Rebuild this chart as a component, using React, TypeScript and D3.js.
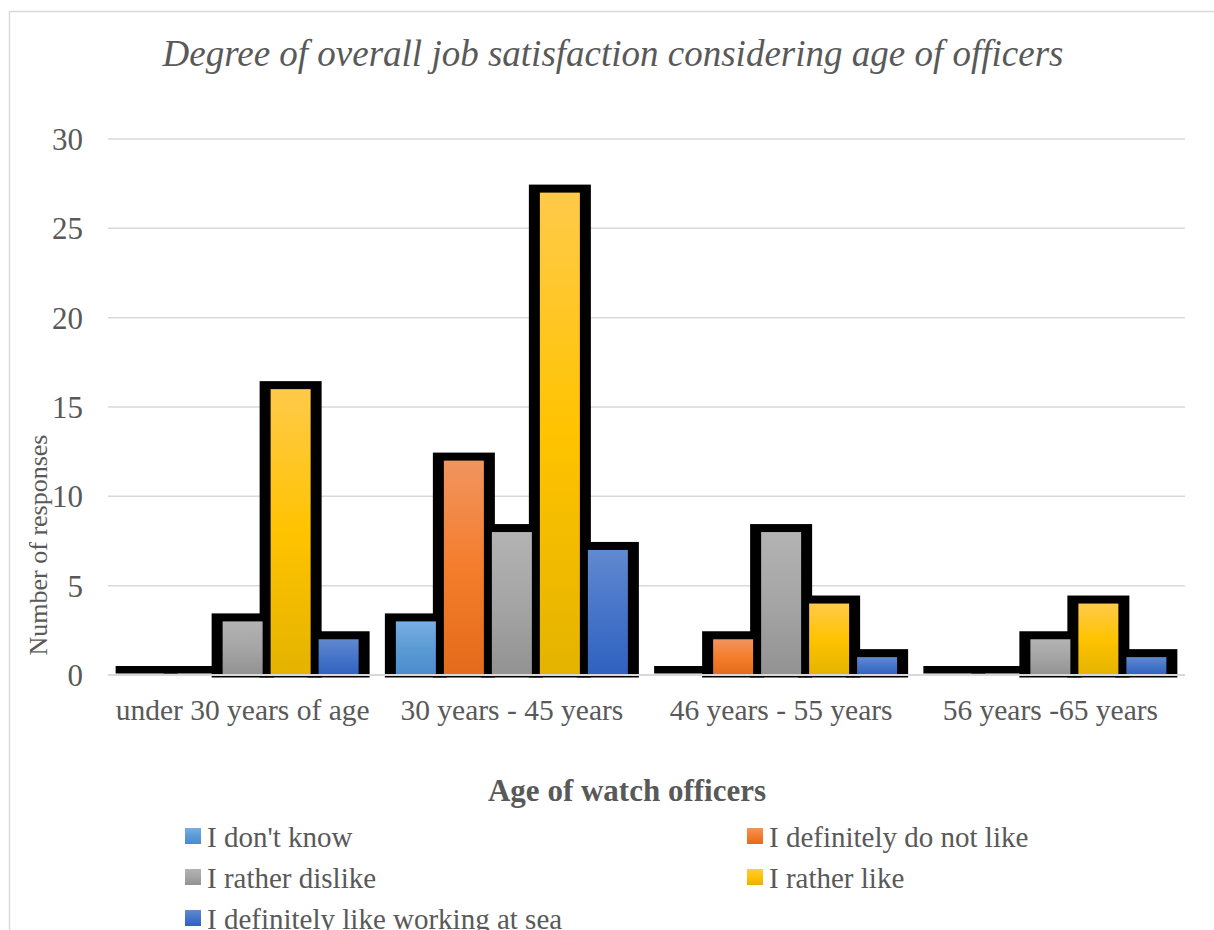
import React from "react";
import * as d3 from "d3";

// Age groups along the x axis
const categories: string[] = [
  "under 30 years of age",
  "30 years - 45 years",
  "46 years - 55 years",
  "56 years -65 years",
];

// Response options (series) in drawing order
const seriesNames: string[] = [
  "I don't know",
  "I definitely do not like",
  "I rather dislike",
  "I rather like",
  "I definitely like working at sea",
];

// Counts per age group for each response option
const dontKnow: number[] = [0, 3, 0, 0];
const definitelyNotLike: number[] = [0, 12, 2, 0];
const ratherDislike: number[] = [3, 8, 8, 2];
const ratherLike: number[] = [16, 27, 4, 4];
const definitelyLike: number[] = [2, 7, 1, 1];

const seriesValues: number[][] = [dontKnow, definitelyNotLike, ratherDislike, ratherLike, definitelyLike];

const yTicks: number[] = [0, 5, 10, 15, 20, 25, 30];

// Gradient stops (top, middle, bottom) for each series
const seriesGradients: string[][] = [
  ["#78aee3", "#5b9bd5", "#4a8bcc"],
  ["#f19460", "#f47d2c", "#e36b1b"],
  ["#b3b3b3", "#a5a5a5", "#929292"],
  ["#ffca4a", "#ffc300", "#e4b300"],
  ["#6189d0", "#4674c8", "#2f61bf"],
];

const TEXT = "#595959";
const FONT = "'Liberation Serif', 'Times New Roman', serif";

export default function App() {
  const W = 1214;
  const H = 930;
  const plotLeft = 108;
  const plotRight = 1185;

  const y = d3.scaleLinear().domain([0, 30]).range([675, 139]);
  const x0 = d3.scaleBand<string>().domain(categories).range([plotLeft, plotRight]).padding(0);
  const x1 = d3
    .scaleBand<string>()
    .domain(seriesNames)
    .range([0, x0.bandwidth()])
    .paddingInner(0)
    .paddingOuter(0.3047);

  const inset = 4; // fill inset inside each slot
  const sideOutline = 11; // black outline reach beyond the fill horizontally
  const topOutline = 8; // black outline reach above the fill

  const bars: { cat: string; si: number; v: number; x: number; w: number }[] = [];
  categories.forEach((c, ci) => {
    seriesNames.forEach((s, si) => {
      const v = seriesValues[si][ci];
      const x = (x0(c) as number) + (x1(s) as number) + inset;
      const w = x1.bandwidth() - inset * 2;
      bars.push({ cat: c, si, v, x, w });
    });
  });

  const y0 = y(0);

  return (
    <div style={{ position: "absolute", left: 0, top: 0 }}>
      <svg width={W} height={H} style={{ display: "block", background: "#fff" }} fontFamily={FONT}>
        <defs>
          {seriesGradients.map((g, i) => (
            <linearGradient key={i} id={`grad${i}`} x1="0" y1="0" x2="0" y2="1">
              <stop offset="0%" stopColor={g[0]} />
              <stop offset="50%" stopColor={g[1]} />
              <stop offset="100%" stopColor={g[2]} />
            </linearGradient>
          ))}
        </defs>

        {/* chart frame */}
        <rect x={9.5} y={11.5} width={1400} height={1100} fill="#fff" stroke="#d9d9d9" strokeWidth={1.5} />

        {/* title */}
        <text x={613} y={66} textAnchor="middle" fontSize={37} fontStyle="italic" fill={TEXT}>
          Degree of overall job satisfaction considering age of officers
        </text>

        {/* gridlines */}
        {yTicks.slice(1).map((t) => (
          <line key={t} x1={plotLeft} x2={plotRight} y1={y(t)} y2={y(t)} stroke="#d9d9d9" strokeWidth={1.5} />
        ))}

        {/* y tick labels */}
        {yTicks.map((t) => (
          <text key={t} x={83} y={y(t) + 11} textAnchor="end" fontSize={31} fill={TEXT}>
            {t}
          </text>
        ))}

        {/* y axis title */}
        <text transform="translate(47,545) rotate(-90)" textAnchor="middle" fontSize={26} fill={TEXT}>
          Number of responses
        </text>

        {/* bar outlines */}
        {bars.map((b, i) =>
          b.v === 0 ? (
            <rect key={`o${i}`} x={b.x - sideOutline} y={y0 - 9} width={b.w + sideOutline * 2} height={7.5} fill="#000" />
          ) : (
            <rect
              key={`o${i}`}
              x={b.x - sideOutline}
              y={y(b.v) - topOutline}
              width={b.w + sideOutline * 2}
              height={y0 - y(b.v) + topOutline + 2.5}
              fill="#000"
            />
          )
        )}

        {/* bar fills */}
        {bars
          .filter((b) => b.v > 0)
          .map((b, i) => (
            <rect key={`f${i}`} x={b.x} y={y(b.v)} width={b.w} height={y0 - y(b.v)} fill={`url(#grad${b.si})`} />
          ))}

        {/* category axis line */}
        <line x1={plotLeft} x2={plotRight} y1={y0} y2={y0} stroke="#d9d9d9" strokeWidth={2} />

        {/* category labels */}
        {categories.map((c) => (
          <text key={c} x={(x0(c) as number) + x0.bandwidth() / 2} y={719.5} textAnchor="middle" fontSize={29.5} fill={TEXT}>
            {c}
          </text>
        ))}

        {/* x axis title */}
        <text x={627} y={801} textAnchor="middle" fontSize={31} fontWeight="bold" fill={TEXT}>
          Age of watch officers
        </text>

        {/* legend */}
        {seriesNames.map((s, i) => {
          const col = i % 2;
          const row = Math.floor(i / 2);
          const mx = col === 0 ? 185 : 747;
          const my = 828 + row * 41;
          return (
            <g key={s}>
              <rect x={mx} y={my} width={16} height={16} fill={`url(#grad${i})`} />
              <text x={mx + 22} y={my + 18.5} fontSize={29} fill={TEXT}>
                {s}
              </text>
            </g>
          );
        })}
      </svg>
    </div>
  );
}
